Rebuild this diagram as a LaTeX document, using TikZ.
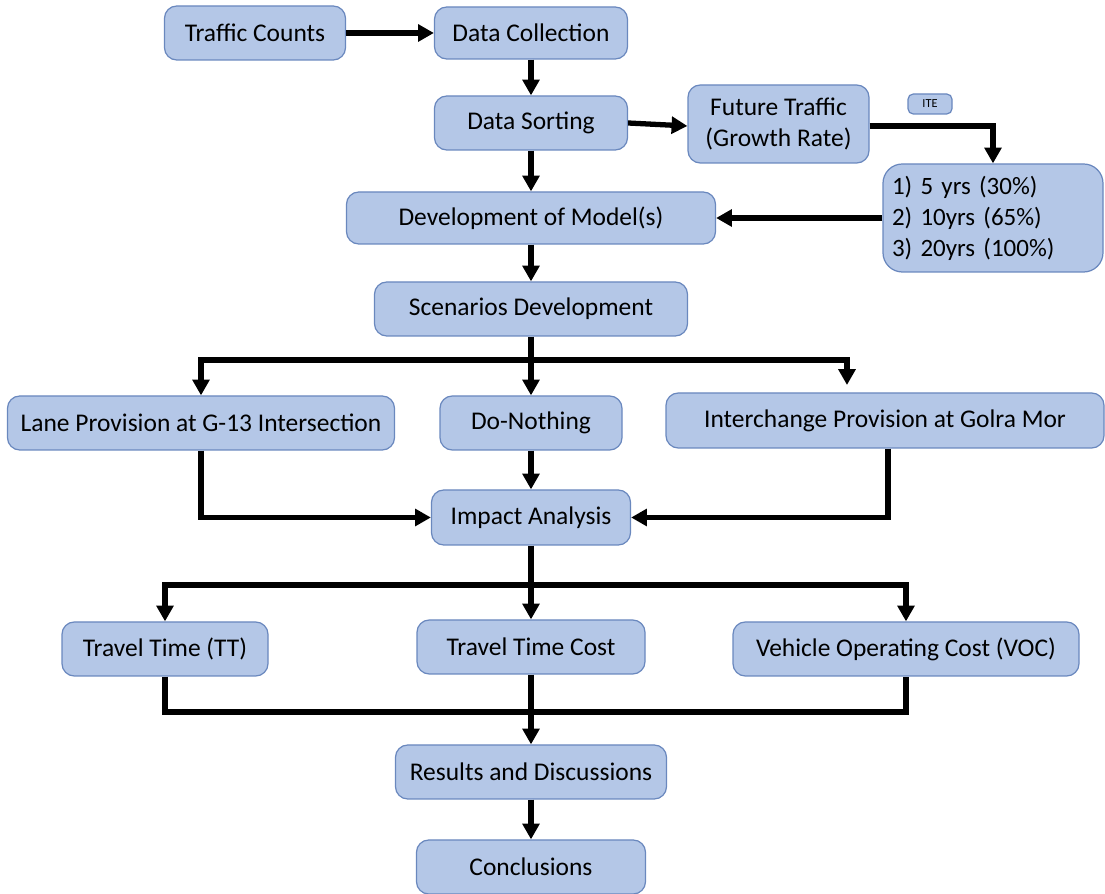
\documentclass[tikz,border=0pt]{standalone}
\usepackage{fontspec}
\setmainfont{Carlito}
\usepackage{tikz}
\usetikzlibrary{arrows.meta}
\definecolor{boxfill}{HTML}{B4C7E7}
\definecolor{boxline}{HTML}{6A88BE}

\begin{document}
\begin{tikzpicture}[scale=1,
  box/.style={draw=boxline, line width=0.7pt, fill=boxfill, rounded corners=7pt,
    inner sep=2pt, align=center, font=\fontsize{14.5}{17.5}\selectfont},
  arr/.style={line width=3pt, -{Triangle[length=9pt,width=9.5pt]}},
  lin/.style={line width=3pt}]
\useasboundingbox (0,0) rectangle (22.1,-17.88);
% top row
\node [box, minimum width=3.62cm, minimum height=1.08cm] (counts) at (5.10,-0.66) {Traffic Counts};
\node [box, minimum width=3.86cm, minimum height=1.04cm] (collect) at (10.62,-0.66) {Data Collection};
\node [box, minimum width=3.86cm, minimum height=1.08cm] (sorting) at (10.62,-2.46) {Data Sorting};
\node [box, minimum width=3.62cm, minimum height=1.56cm] (future) at (15.57,-2.48) {Future Traffic\\(Growth Rate)};
\node [box, minimum width=0.88cm, minimum height=0.40cm, rounded corners=3pt, inner sep=0pt,
  font=\fontsize{7}{8}\selectfont] (ite) at (18.60,-2.08) {ITE};
\node [box, minimum width=4.40cm, minimum height=2.16cm, align=left, text width=4.04cm,
  rounded corners=11pt, font=\fontsize{14.2}{17.6}\selectfont] (years) at (19.86,-4.36) {1) 5 yrs (30\%)\\2) 10yrs (65\%)\\3) 20yrs (100\%)};
\node [box, minimum width=7.38cm, minimum height=1.04cm] (model) at (10.62,-4.36) {Development of Model(s)};
\node [box, minimum width=6.26cm, minimum height=1.08cm] (scen) at (10.62,-6.18) {Scenarios Development};
% scenarios
\node [box, minimum width=7.74cm, minimum height=1.08cm] (lane) at (4.02,-8.46) {Lane Provision at G-13 Intersection};
\node [box, minimum width=3.64cm, minimum height=1.08cm] (nothing) at (10.62,-8.46) {Do-Nothing};
\node [box, minimum width=8.76cm, minimum height=1.10cm] (inter) at (17.70,-8.41) {Interchange Provision at Golra Mor};
\node [box, minimum width=3.98cm, minimum height=1.10cm] (impact) at (10.62,-10.35) {Impact Analysis};
% outputs
\node [box, minimum width=4.12cm, minimum height=1.08cm] (tt) at (3.30,-12.98) {Travel Time (TT)};
\node [box, minimum width=4.56cm, minimum height=1.08cm] (ttc) at (10.62,-12.94) {Travel Time Cost};
\node [box, minimum width=6.92cm, minimum height=1.08cm] (voc) at (18.12,-12.98) {Vehicle Operating Cost (VOC)};
\node [box, minimum width=5.42cm, minimum height=1.08cm] (results) at (10.62,-15.44) {Results and Discussions};
\node [box, minimum width=4.58cm, minimum height=1.08cm] (concl) at (10.62,-17.34) {Conclusions};
% connectors
\coordinate (bus1) at (10.62,-7.20);
\coordinate (tipint) at (16.94,-7.70);
\coordinate (bus2) at (10.62,-11.70);
\coordinate (bus3) at (10.62,-14.24);
\draw [arr] (counts) -- (collect);
\draw [arr] (collect) -- (sorting);
\draw [arr] (sorting.east) -- (future.west |- 0,-2.52);
\draw [arr] (future.east |- 0,-2.52) -| (years.north);
\draw [arr] (years) -- (model);
\draw [arr] (sorting) -- (model);
\draw [arr] (model) -- (scen);
\draw [lin] (scen.south) -- (bus1);
\draw [arr] (bus1) -| (lane.north);
\draw [arr] (bus1) -| (tipint);
\draw [arr] (bus1) -- (nothing.north);
\draw [arr] (lane.south) |- (impact.west);
\draw [arr] (nothing) -- (impact);
\draw [arr] (inter.south -| 17.76,0) |- (impact.east);
\draw [lin] (impact.south) -- (bus2);
\draw [arr] (bus2) -| (tt.north);
\draw [arr] (bus2) -| (voc.north);
\draw [arr] (bus2) -- (ttc.north);
\draw [lin] (tt.south) |- (bus3) -| (voc.south);
\draw [arr] (ttc.south) -- (results.north);
\draw [arr] (results) -- (concl);
\end{tikzpicture}
\end{document}
